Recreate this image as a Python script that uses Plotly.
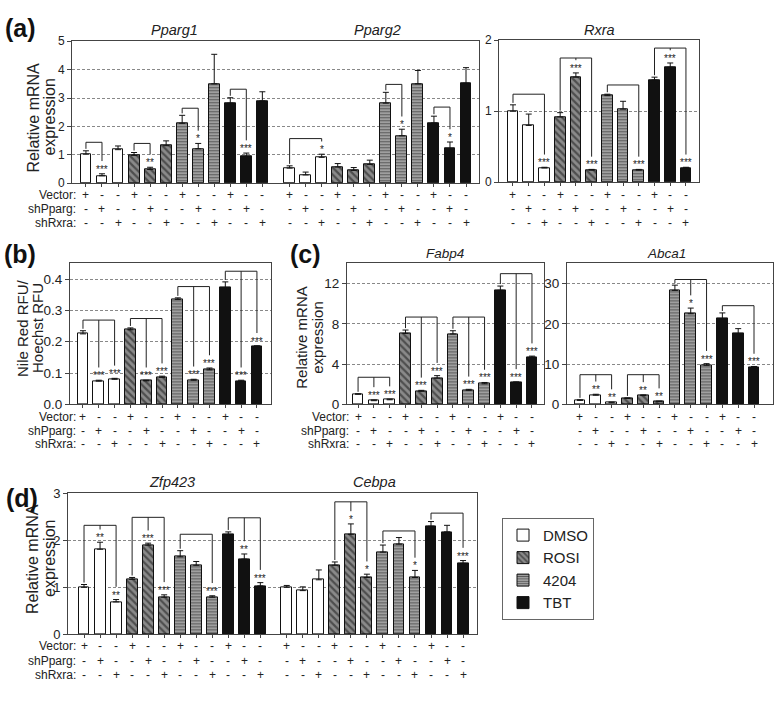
import plotly.graph_objects as go

W, H = 777, 702
FONT = "Liberation Sans, Arial, sans-serif"

TREATMENTS = ["DMSO", "ROSI", "4204", "TBT"]
ROW_LABELS = ["Vector:", "shPparg:", "shRxra:"]
ROW_SIGNS = [["+", "-", "-"], ["-", "+", "-"], ["-", "-", "+"]]

# ---------------- data ----------------
pparg1_vals = [1.02, 0.26, 1.18, 0.98, 0.48, 1.32, 2.11, 1.21, 3.50, 2.82, 0.94, 2.90]
pparg1_errs = [0.12, 0.07, 0.13, 0.10, 0.08, 0.17, 0.28, 0.19, 1.04, 0.19, 0.12, 0.32]
pparg1_stars = ["", "***", "", "", "**", "", "", "*", "", "", "***", ""]
pparg1_brackets = [(0, [1], 1.44), (3, [4], 1.40), (6, [7], 2.64), (9, [10], 3.31)]

pparg2_vals = [0.53, 0.29, 0.91, 0.57, 0.45, 0.66, 2.82, 1.67, 3.50, 2.12, 1.22, 3.52]
pparg2_errs = [0.08, 0.10, 0.11, 0.12, 0.10, 0.15, 0.38, 0.23, 0.47, 0.24, 0.23, 0.55]
pparg2_stars = ["", "", "*", "", "", "", "", "*", "", "", "*", ""]
pparg2_brackets = [(0, [2], 1.57), (6, [7], 3.48), (9, [10], 2.68)]

rxra_vals = [1.00, 0.80, 0.20, 0.92, 1.48, 0.17, 1.22, 1.03, 0.17, 1.44, 1.62, 0.20]
rxra_errs = [0.09, 0.16, 0.01, 0.06, 0.06, 0.01, 0.02, 0.11, 0.01, 0.04, 0.06, 0.01]
rxra_stars = ["", "", "***", "", "***", "***", "", "", "***", "", "***", "***"]
rxra_brackets = [(0, [2], 1.24), (3, [4, 5], 1.75), (6, [8], 1.37), (9, [10, 11], 1.89)]

nile_vals = [0.225, 0.074, 0.080, 0.238, 0.075, 0.086, 0.335, 0.077, 0.110, 0.373, 0.074, 0.184]
nile_errs = [0.010, 0.003, 0.003, 0.006, 0.002, 0.004, 0.005, 0.003, 0.006, 0.018, 0.003, 0.003]
nile_stars = ["", "***", "***", "", "***", "***", "", "***", "***", "", "***", "***"]
nile_brackets = [(0, [1, 2], 0.269), (3, [4, 5], 0.274), (6, [7, 8], 0.376), (9, [10, 11], 0.425)]

fabp4_vals = [1.00, 0.36, 0.45, 7.05, 1.30, 2.60, 6.99, 1.39, 2.04, 11.33, 2.14, 4.66]
fabp4_errs = [0.05, 0.08, 0.07, 0.33, 0.09, 0.25, 0.32, 0.10, 0.13, 0.42, 0.09, 0.13]
fabp4_stars = ["", "***", "***", "", "***", "***", "", "***", "***", "", "***", "***"]
fabp4_brackets = [(0, [1, 2], 2.69), (3, [4, 5], 8.67), (6, [7, 8], 8.67), (9, [10, 11], 12.98)]

abca1_vals = [0.97, 2.26, 0.40, 1.45, 2.18, 0.65, 28.3, 22.5, 9.7, 21.3, 17.6, 9.05]
abca1_errs = [0.16, 0.24, 0.17, 0.15, 0.16, 0.15, 1.3, 1.4, 0.4, 1.4, 1.2, 0.35]
abca1_stars = ["", "**", "**", "", "**", "**", "", "*", "***", "", "", "***"]
abca1_brackets = [(0, [1, 2], 7.36), (3, [4, 5], 7.36), (6, [7, 8], 31.0), (9, [11], 24.5)]

zfp423_vals = [1.00, 1.81, 0.69, 1.17, 1.90, 0.79, 1.65, 1.47, 0.79, 2.12, 1.60, 1.03]
zfp423_errs = [0.06, 0.15, 0.05, 0.04, 0.04, 0.05, 0.13, 0.08, 0.03, 0.06, 0.11, 0.07]
zfp423_stars = ["", "**", "**", "", "***", "***", "", "", "***", "", "**", "***"]
zfp423_brackets = [(0, [1, 2], 2.32), (3, [4, 5], 2.49), (6, [8], 2.13), (9, [10, 11], 2.48)]

cebpa_vals = [1.00, 0.93, 1.16, 1.47, 2.13, 1.21, 1.75, 1.92, 1.21, 2.30, 2.18, 1.51]
cebpa_errs = [0.04, 0.08, 0.21, 0.07, 0.22, 0.07, 0.15, 0.14, 0.15, 0.10, 0.14, 0.06]
cebpa_stars = ["", "", "", "", "*", "*", "", "", "*", "", "", "***"]
cebpa_brackets = [(3, [4, 5], 2.82), (6, [8], 2.20), (9, [11], 2.58)]

GENES = {
    "Pparg1": (pparg1_vals, pparg1_errs, pparg1_stars, pparg1_brackets),
    "Pparg2": (pparg2_vals, pparg2_errs, pparg2_stars, pparg2_brackets),
    "Rxra": (rxra_vals, rxra_errs, rxra_stars, rxra_brackets),
    "NileRed": (nile_vals, nile_errs, nile_stars, nile_brackets),
    "Fabp4": (fabp4_vals, fabp4_errs, fabp4_stars, fabp4_brackets),
    "Abca1": (abca1_vals, abca1_errs, abca1_stars, abca1_brackets),
    "Zfp423": (zfp423_vals, zfp423_errs, zfp423_stars, zfp423_brackets),
    "Cebpa": (cebpa_vals, cebpa_errs, cebpa_stars, cebpa_brackets),
}

# ---------------- styles / layout ----------------
STYLE = {
    "DMSO": dict(color="white", pattern=None),
    "ROSI": dict(color="#8a8a8a", pattern=dict(shape="\\", fgcolor="#111111", fillmode="overlay", size=5, solidity=0.45)),
    "4204": dict(color="#a6a6a6", pattern=dict(shape="-", fgcolor="#111111", fillmode="overlay", size=3, solidity=0.4)),
    "TBT": dict(color="#111111", pattern=None),
}

PANELS = [
    dict(genes=["Pparg1", "Pparg2"], titles=True, gts=14.5, box=(72, 35, 479, 180), xr=(-0.87, 24.51), yr=(0, 5),
         dtick=1, fmt="", tfs=12, gap=1.7, rows_y=(192, 206, 221), rowlabel_x=78, title_y=23,
         ytitle=("Relative mRNA", "expression"), ytitle_x=(34, 50), ytitle_y=113, yts=16,
         label="(a)", label_xy=(20, 21)),
    dict(genes=["Rxra"], titles=True, gts=14.5, box=(499, 34, 699, 179), xr=(-0.89, 11.83), yr=(0, 2), dtick=1,
         fmt="", tfs=12, gap=0, rows_y=(192, 206, 221), rowlabel_x=None, title_y=23),
    dict(genes=["NileRed"], titles=False, gts=14, box=(70, 262, 271, 406), xr=(-0.82, 11.89), yr=(0, 0.45),
         dtick=0.1, fmt=".1f", tfs=13.5, gap=0, rows_y=(419, 433, 447), rowlabel_x=78, title_y=None,
         ytitle=("Nile Red RFU/", "Hoechst RFU"), ytitle_x=(23, 38), ytitle_y=328, yts=15,
         label="(b)", label_xy=(20, 252)),
    dict(genes=["Fabp4"], titles=True, gts=13.5, box=(347, 262, 544, 406), xr=(-0.7, 11.76), yr=(0, 14), dtick=4,
         fmt="", tfs=13.5, gap=0, rows_y=(419, 433, 447), rowlabel_x=351, title_y=252,
         ytitle=("Relative mRNA", "expression"), ytitle_x=(302, 318), ytitle_y=338, yts=15,
         label="(c)", label_xy=(305, 252)),
    dict(genes=["Abca1"], titles=True, gts=13.5, box=(567, 262, 773, 406), xr=(-0.82, 12.2), yr=(0, 35), dtick=10,
         fmt="", tfs=13.5, gap=0, rows_y=(419, 433, 447), rowlabel_x=None, title_y=252),
    dict(genes=["Zfp423", "Cebpa"], titles=True, gts=14.5, box=(68, 497, 477, 641), xr=(-1.0, 24.52), yr=(0, 3),
         dtick=1, fmt="", tfs=13, gap=1.65, rows_y=(653, 668, 683), rowlabel_x=78, title_y=485,
         ytitle=("Relative mRNA", "expression"), ytitle_x=(33, 50), ytitle_y=564, yts=16,
         label="(d)", label_xy=(22, 502)),
]

fig = go.Figure()
shapes = []
annotations = []
layout = dict(width=W, height=H, margin=dict(l=0, r=0, t=0, b=0),
              paper_bgcolor="white", plot_bgcolor="white",
              font=dict(family=FONT, color="#222222"), bargap=0, barmode="overlay")

AXCOL = "#444444"


def px_x(p):
    return p / W


def px_y(p):
    return 1 - p / H


for k, P in enumerate(PANELS):
    n = k + 1
    xa = "x" if n == 1 else f"x{n}"
    ya = "y" if n == 1 else f"y{n}"
    x0, y0, x1, y1 = P["box"]
    ymin, ymax = P["yr"]
    u = (ymax - ymin) / (y1 - y0)  # data units per pixel

    all_pos = []
    for g, gene in enumerate(P["genes"]):
        vals, errs, stars, brackets = GENES[gene]
        offset = g * (len(vals) - 1 + P["gap"])
        pos = [offset + i for i in range(len(vals))]
        all_pos += pos

        for t, tr in enumerate(TREATMENTS):
            idx = [i for i in range(len(vals)) if i // 3 == t]
            st = STYLE[tr]
            marker = dict(color=st["color"], line=dict(color="#111111", width=1))
            if st["pattern"]:
                marker["pattern"] = st["pattern"]
            fig.add_trace(go.Bar(
                x=[pos[i] for i in idx], y=[vals[i] for i in idx], width=0.68,
                marker=marker, name=tr, legendgroup=tr,
                showlegend=(k == 0 and g == 0), xaxis=xa, yaxis=ya,
                error_y=dict(type="data", symmetric=False, array=[errs[i] for i in idx],
                             arrayminus=[0] * len(idx), color="#111111", thickness=1, width=3),
            ))

        # stars
        for i, s in enumerate(stars):
            if s:
                annotations.append(dict(x=pos[i], y=vals[i] + errs[i], xref=xa, yref=ya, text=s,
                                        showarrow=False, yanchor="bottom", yshift=-3,
                                        font=dict(size=10, color="#222222")))
        # brackets
        for ref, targets, ytop in brackets:
            rtop = vals[ref] + errs[ref] + 2 * u
            line = dict(color="#222222", width=1)
            shapes.append(dict(type="line", xref=xa, yref=ya, x0=pos[ref], x1=pos[ref], y0=rtop, y1=ytop, line=line))
            shapes.append(dict(type="line", xref=xa, yref=ya, x0=pos[ref], x1=pos[max(targets)], y0=ytop, y1=ytop, line=line))
            for tt in targets:
                end = vals[tt] + errs[tt] + (13 if stars[tt] else 4) * u
                shapes.append(dict(type="line", xref=xa, yref=ya, x0=pos[tt], x1=pos[tt], y0=ytop, y1=end, line=line))

        # gene title
        if P["titles"]:
            annotations.append(dict(x=(pos[0] + pos[-1]) / 2, y=px_y(P["title_y"]), xref=xa, yref="paper",
                                    text=f"<i>{gene}</i>", showarrow=False, font=dict(size=P["gts"], color="#222222"),
                                    xanchor="center", yanchor="middle"))
        # +/- rows
        for r in range(3):
            for i in range(len(vals)):
                annotations.append(dict(x=pos[i], y=px_y(P["rows_y"][r]), xref=xa, yref="paper",
                                        text=ROW_SIGNS[r][i % 3], showarrow=False,
                                        font=dict(size=12, color="#222222"), xanchor="center", yanchor="middle"))

    if P.get("rowlabel_x"):
        for r in range(3):
            annotations.append(dict(x=px_x(P["rowlabel_x"]), y=px_y(P["rows_y"][r]), xref="paper", yref="paper",
                                    text=ROW_LABELS[r], showarrow=False, font=dict(size=12, color="#222222"),
                                    xanchor="right", yanchor="middle"))
    if P.get("ytitle"):
        for line_txt, lx in zip(P["ytitle"], P["ytitle_x"]):
            annotations.append(dict(x=px_x(lx), y=px_y(P["ytitle_y"]), xref="paper", yref="paper",
                                    text=line_txt, textangle=-90, showarrow=False,
                                    font=dict(size=P["yts"], color="#222222"), xanchor="center", yanchor="middle"))
    if P.get("label"):
        lx, ly = P["label_xy"]
        annotations.append(dict(x=px_x(lx), y=px_y(ly), xref="paper", yref="paper", text="<b>" + P["label"] + "</b>",
                                showarrow=False, font=dict(size=25, color="#111111"),
                                xanchor="center", yanchor="middle"))

    xkey = "xaxis" if n == 1 else f"xaxis{n}"
    ykey = "yaxis" if n == 1 else f"yaxis{n}"
    layout[xkey] = dict(domain=[px_x(x0), px_x(x1)], range=list(P["xr"]), anchor=ya,
                        showline=True, linecolor=AXCOL, linewidth=1, mirror=True,
                        showgrid=False, zeroline=False, showticklabels=False,
                        ticks="outside", ticklen=3, tickcolor=AXCOL, tickvals=all_pos)
    layout[ykey] = dict(domain=[px_y(y1), px_y(y0)], range=[ymin, ymax], anchor=xa,
                        showline=True, linecolor=AXCOL, linewidth=1, mirror=True,
                        showgrid=True, gridcolor="#888888", gridwidth=0.8, griddash="3px,2px",
                        zeroline=False, ticks="outside", ticklen=4, tickcolor=AXCOL,
                        dtick=P["dtick"], tick0=0, tickformat=P["fmt"],
                        tickfont=dict(size=P["tfs"], color="#222222"))

layout["shapes"] = shapes
layout["annotations"] = annotations
layout["legend"] = dict(x=px_x(502), y=px_y(522), xanchor="left", yanchor="top",
                        bordercolor="#666666", borderwidth=1, bgcolor="white",
                        font=dict(size=15, color="#222222"), traceorder="normal",
                        itemwidth=30, tracegroupgap=0)
fig.update_layout(**layout)
fig.write_html("out.html", config={"displayModeBar": False},
               post_script="document.body.style.margin='0';document.body.style.overflow='hidden';")
